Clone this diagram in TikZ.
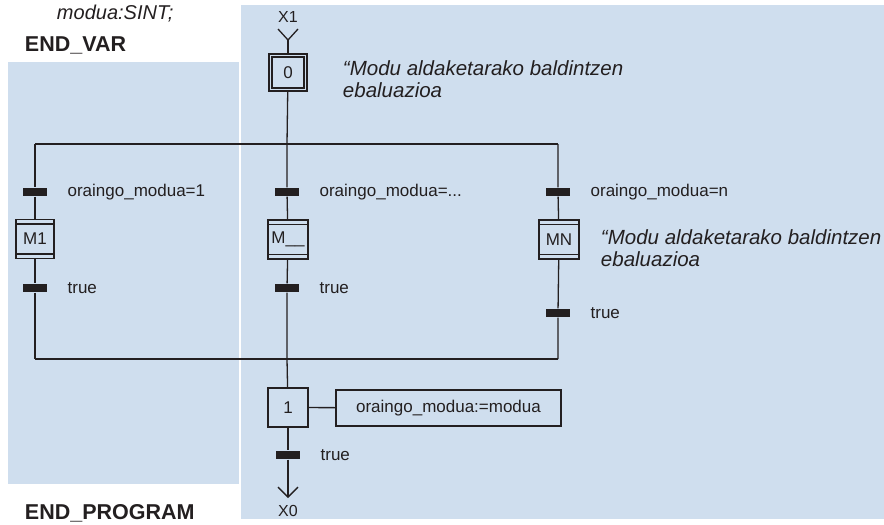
\documentclass[tikz,border=0pt]{standalone}
\usepackage{fontspec}
\setmainfont{Liberation Sans}
\usetikzlibrary{arrows.meta,positioning}

\definecolor{sfcblue}{RGB}{207,222,238}
\definecolor{ink}{RGB}{35,31,32}

\begin{document}
\begin{tikzpicture}[
        x=1pt, y=-1pt, line width=1.3pt, color=ink,
        stepbox/.style={rectangle,draw,minimum width=40pt,minimum height=39pt,
            inner sep=0pt,font=\fontsize{17}{20}\selectfont},
        initstep/.style={stepbox,minimum width=35pt,minimum height=34pt,
            double=sfcblue,double distance=1.8pt},
        macrostep/.style={stepbox,path picture={
            \draw ([yshift=-4.5pt]path picture bounding box.north west)
                -- ([yshift=-4.5pt]path picture bounding box.north east);
            \draw ([yshift=4.5pt]path picture bounding box.south west)
                -- ([yshift=4.5pt]path picture bounding box.south east);}},
        trans/.style={rectangle,fill=ink,minimum width=24pt,minimum height=8pt,inner sep=0pt},
        cond/.style={right=16pt of #1,font=\fontsize{17}{20}\selectfont},
        action/.style={rectangle,draw,minimum width=225pt,minimum height=36pt,
            font=\fontsize{17}{20}\selectfont},
        remark/.style={anchor=north west,align=left,font=\fontsize{20.5}{22}\selectfont\itshape},
        keyword/.style={anchor=base west,font=\fontsize{21.5}{24}\selectfont\bfseries}
    ]

    \useasboundingbox (0,0) rectangle (884,525);

    % shaded blocks
    \fill[sfcblue] (8,62) rectangle (239,484);
    \fill[sfcblue] (241,5) rectangle (884,519);

    % surrounding program text
    \node[anchor=base west,font=\fontsize{20}{24}\selectfont\itshape] (decl) at (53,19) {modua:SINT;};
    \node[keyword] (endvar) at (21,51) {END\_VAR};
    \node[keyword] (endprog) at (21,519.5) {END\_PROGRAM};

    % initial step
    \node[font=\fontsize{16}{18}\selectfont] (x1) at (288,17) {X1};
    \coordinate (x1in) at (288,40);
    \node[initstep] (s0) at (288,72.5) {0};
    \node[remark] (rem0) at (339,57) {“Modu aldaketarako baldintzen\\ebaluazioa};

    % divergence and convergence
    \coordinate (dl) at (35,144);
    \coordinate (dm) at (287,144);
    \coordinate (dr) at (558,144);
    \coordinate (cl) at (35,359);
    \coordinate (cm) at (287,359);
    \coordinate (cr) at (558,359);

    % mode branches
    \node[trans] (ta1) at (35,192) {};
    \node[cond=ta1] {oraingo\_modua=1};
    \node[macrostep,minimum width=38pt] (m1) at (35,239) {M1};
    \node[trans] (tb1) at (35,288) {};
    \node[cond=tb1] {true};

    \node[trans] (ta2) at (287,192) {};
    \node[cond=ta2] {oraingo\_modua=...};
    \node[macrostep] (m2) at (288,239.5) {M\_\_};
    \node[trans] (tb2) at (287,288) {};
    \node[cond=tb2] {true};

    \node[trans] (ta3) at (558,192) {};
    \node[cond=ta3] {oraingo\_modua=n};
    \node[macrostep] (m3) at (559,239.5) {MN};
    \node[remark] (rem3) at (597,226) {“Modu aldaketarako baldintzen\\ebaluazioa};
    \node[trans] (tb3) at (558,313) {};
    \node[cond=tb3] {true};

    % final step
    \node[stepbox] (s1) at (288,407.5) {1};
    \node[action] (act1) at (448.5,408) {oraingo\_modua:=modua};
    \node[trans] (tc) at (288,455) {};
    \node[cond=tc] {true};
    \coordinate (x0out) at (288,498);
    \node[font=\fontsize{16}{18}\selectfont] (x0) at (288,511) {X0};

    % links
    \draw (x1in) ++(-10,-11) -- (x1in) -- ++(10,-11);
    \draw (x1in) -- (s0);
    \draw (s0) -- (dm);
    \draw (dl) -- (dr);
    \draw (cl) -- (cr);

    \draw (dl) -- (ta1) -- (m1) -- (tb1) -- (cl);
    \draw (dm) -- (ta2) -- (m2) -- (tb2) -- (cm);
    \draw (dr) -- (ta3) -- (m3) -- (tb3) -- (cr);

    \draw (cm) -- (s1);
    \draw (s1) -- (act1);
    \draw (s1) -- (tc);
    \draw[-{Straight Barb[length=10pt,width=20pt]}] (tc) -- (x0out);

\end{tikzpicture}
\end{document}
